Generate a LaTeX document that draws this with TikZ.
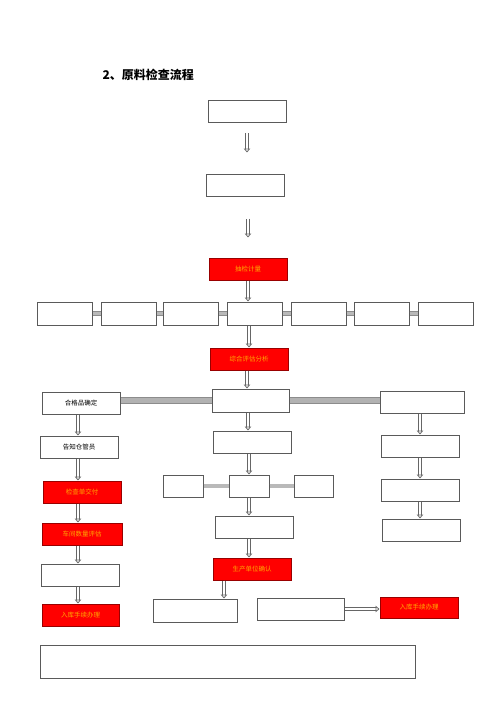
\documentclass[tikz,border=0pt]{standalone}
\usepackage{fontspec}
\newfontfamily\cjk{Noto Sans CJK SC}
\usetikzlibrary{arrows.meta,calc}
\definecolor{redtxt}{RGB}{255,170,0}
\definecolor{edge}{RGB}{90,90,90}
\tikzset{
  box/.style={draw=edge, line width=1pt, fill=white, inner sep=0pt, minimum height=22pt, minimum width=78pt, font=\cjk\fontsize{6.5}{7}\selectfont},
  redbox/.style={box, draw=red!60!black, fill=red, text=redtxt},
  hol/.style={draw=black!60, line width=0.75pt, double=white, double distance=2.4pt, -{Triangle[open, length=4pt, width=6.5pt]}},
  bar/.style={draw=gray!90, line width=0.6pt, double=gray!55, double distance=3.5pt},
  wbar/.style={draw=gray!90, line width=0.6pt, double=gray!60, double distance=5.5pt},
}
\newcommand{\lowtxt}[1]{\raisebox{-3.5pt}{#1}}
\begin{document}
\begin{tikzpicture}[x=1pt,y=-1pt]
\useasboundingbox (0,0) rectangle (500,707);
\fill[white] (0,0) rectangle (500,707);
\node[font=\cjk\bfseries\fontsize{12}{14}\selectfont, anchor=west] (title) at (99,75) {2、原料检查流程};
% top chain
\node[box] (b1) at (247,111.5) {};
\node[box] (b2) at (245,185) {};
\node[redbox] (r1) at (248,269) {\lowtxt{抽检计量}};
% row of seven
\foreach \i/\x in {1/65,2/129,3/190.5,4/255,5/318.5,6/381.5,7/445.5}{
  \node[box, minimum width=55pt, minimum height=23pt] (row\i) at (\x,313.5) {};
}
\node[redbox] (r2) at (249,359) {\lowtxt{综合评估分析}};
% middle column
\node[box, minimum width=77pt, minimum height=23pt] (m1) at (250.5,400.5) {};
\node[box] (m2) at (252,442) {};
\node[box, minimum width=40pt] (s1) at (183,486) {};
\node[box, minimum width=40pt] (m3) at (249,486) {};
\node[box, minimum width=39pt] (s2) at (313.5,486) {};
\node[box] (m4) at (254,527) {};
\node[redbox] (m5) at (252,569) {\lowtxt{生产单位确认}};
\node[box, minimum width=84pt, minimum height=23pt] (B1) at (195,610.5) {};
\node[box, minimum width=87pt] (B2) at (300.5,609) {};
\node[redbox, minimum height=21pt] (R5) at (419,607.5) {\lowtxt{入库手续办理}};
% left column
\node[box] (L1) at (81,403) {\lowtxt{合格品确定}};
\node[box] (L2) at (79,447) {\lowtxt{告知仓管员}};
\node[redbox] (L3) at (82,492) {\lowtxt{检查单交付}};
\node[redbox, minimum width=80pt] (L4) at (82,534) {\lowtxt{车间数量评估}};
\node[box] (L5) at (80,575) {};
\node[redbox, minimum width=77pt] (L6) at (80.5,615) {\lowtxt{入库手续办理}};
% right column
\node[box, minimum width=84pt] (R1) at (422,402) {};
\node[box] (R2) at (420,446) {};
\node[box] (R3) at (420,490) {};
\node[box] (R4) at (421,530) {};
% bottom wide box
\node[box, minimum width=375pt, minimum height=33pt] (big) at (227.5,661.5) {};
% gray bars
\foreach \a/\b in {1/2,2/3,3/4,4/5,5/6,6/7}{
  \draw[bar] (row\a.east) -- (row\b.west);
}
\draw[wbar] (L1.east |- m1.east) -- (m1.west);
\draw[wbar] (m1.east) -- (m1.east -| R1.west);
\draw[bar] (s1.east) -- (m3.west);
\draw[bar] (m3.east) -- (s2.west);
% arrows
\draw[hol, shorten <=10pt, shorten >=21pt] (b1.south) -- (b1.south |- b2.north);
\draw[hol, shorten <=22pt, shorten >=20pt] ([xshift=3pt]b2.south) -- ([xshift=3pt]b2.south |- r1.north);
\draw[hol] (r1.south) -- (r1.south |- row4.north);
\draw[hol] (row4.south -| r2.north) -- (r2.north);
\draw[hol] ([xshift=-2pt]r2.south) -- ([xshift=-2pt]r2.south |- m1.north);
\draw[hol] ([xshift=-2.5pt]m1.south) -- ([xshift=-2.5pt]m1.south |- m2.north);
\draw[hol] ([xshift=-3pt]m2.south) -- ([xshift=-3pt]m2.south |- m3.north);
\draw[hol] (m3.south) -- (m3.south |- m4.north);
\draw[hol] ([xshift=-5pt]m4.south) -- ([xshift=-5pt]m4.south |- m5.north);
\draw[hol] ([xshift=-28pt]m5.south) -- ([xshift=-28pt]m5.south |- B1.north);
\draw[hol] (B2.east) -- (B2.east -| R5.west);
\draw[hol] ([xshift=-3pt]L1.south) -- ([xshift=-3pt]L1.south |- L2.north);
\draw[hol] ([xshift=-1pt]L2.south) -- ([xshift=-1pt]L2.south |- L3.north);
\draw[hol] ([xshift=-4pt]L3.south) -- ([xshift=-4pt]L3.south |- L4.north);
\draw[hol] ([xshift=-4pt]L4.south) -- ([xshift=-4pt]L4.south |- L5.north);
\draw[hol] ([xshift=-2pt]L5.south) -- ([xshift=-2pt]L5.south |- L6.north);
\draw[hol] ([xshift=-2pt]R1.south) -- ([xshift=-2pt]R1.south |- R2.north);
\draw[hol] (R2.south) -- (R2.south |- R3.north);
\draw[hol] (R3.south) -- (R3.south |- R4.north);
\end{tikzpicture}
\end{document}
